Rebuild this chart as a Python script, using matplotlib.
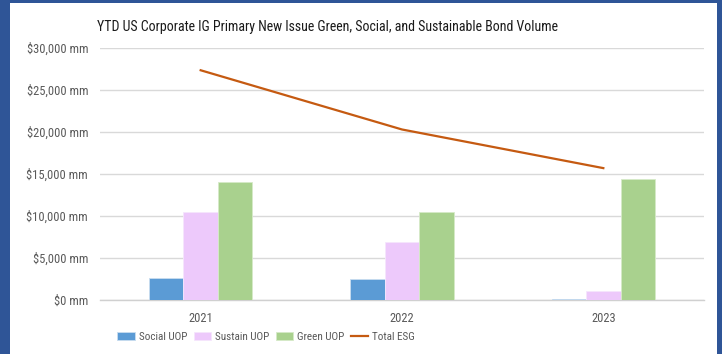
import numpy as np
import matplotlib.pyplot as plt
from matplotlib.patches import Rectangle
from matplotlib import font_manager

names = {f.name for f in font_manager.fontManager.ttflist}
cond = [n for n in ['DejaVu Sans Condensed', 'Liberation Sans Narrow', 'Roboto Condensed'] if n in names]
plt.rcParams['font.family'] = cond + ['Roboto', 'DejaVu Sans']

# data (mm USD)
years = ['2021', '2022', '2023']
social = [2650, 2500, 150]
sustain = [10500, 6950, 1100]
green = [14000, 10500, 14400]
total_esg = [27350, 20300, 15700]

yticks = [0, 5000, 10000, 15000, 20000, 25000, 30000]
ytick_labels = ['$0 mm', '$5,000 mm', '$10,000 mm', '$15,000 mm',
                '$20,000 mm', '$25,000 mm', '$30,000 mm']

W, H = 722, 354
fig = plt.figure(figsize=(W / 100, H / 100), dpi=100)

# blue frame around the white panel
fig.patch.set_facecolor('#2F5597')
fig.patches.append(Rectangle((10 / W, 0), (717 - 10) / W, (H - 3) / H,
                             transform=fig.transFigure, facecolor='white',
                             edgecolor='none', zorder=-10))

ax = fig.add_axes([100 / W, (H - 300) / H, (704 - 100) / W, (300 - 48) / H])
ax.set_facecolor('none')

x = np.arange(len(years))
bw = 0.171
b1 = ax.bar(x - bw, social, bw, color='#5B9BD5', edgecolor='#C9DDF0', linewidth=0.6, zorder=3)
b2 = ax.bar(x, sustain, bw, color='#EDC9FB', edgecolor='#F6E6FD', linewidth=0.6, zorder=3)
b3 = ax.bar(x + bw, green, bw, color='#A9D18E', edgecolor='#D6EAC8', linewidth=0.6, zorder=3)
l1, = ax.plot(x, total_esg, color='#C55A11', linewidth=1.6, zorder=4)

ax.set_xlim(-0.5, 2.5)
ax.set_ylim(0, 30000)
ax.set_yticks(yticks)
ax.set_yticklabels(ytick_labels)
ax.set_xticks(x)
ax.set_xticklabels(years)
ax.tick_params(axis='both', length=0, colors='#595959', labelsize=9)
ax.tick_params(axis='y', pad=8.6)
ax.tick_params(axis='x', pad=9)
ax.grid(axis='y', color='#D9D9D9', linewidth=1, zorder=0)
for s in ['top', 'right', 'left']:
    ax.spines[s].set_visible(False)
ax.spines['bottom'].set_color('#D0D0D0')
ax.spines['bottom'].set_linewidth(1)

fig.text(97 / W, 1 - 27 / H, 'YTD US Corporate IG Primary New Issue Green, Social, and Sustainable Bond Volume',
         ha='left', va='center', fontsize=10, color='#1A1A1A')

fig.legend([b1, b2, b3, l1], ['Social UOP', 'Sustain UOP', 'Green UOP', 'Total ESG'],
           loc='center', bbox_to_anchor=(266 / W, 1 - 337 / H), ncol=4, frameon=False,
           fontsize=8, handlelength=1.6, handleheight=0.7, columnspacing=0.6,
           handletextpad=0.3, labelcolor='#595959', borderpad=0)

fig.savefig('out.png', dpi=100, facecolor=fig.get_facecolor())
